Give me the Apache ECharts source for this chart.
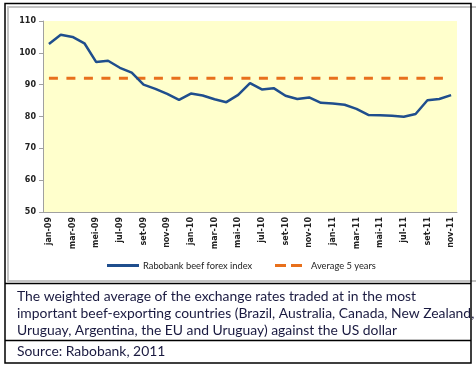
<!DOCTYPE html>
<html>
<head>
<meta charset="utf-8">
<script src="https://cdn.jsdelivr.net/npm/echarts@6/dist/echarts.min.js"></script>
<style>
html,body{margin:0;padding:0;background:#fff;}
#c{width:476px;height:367px;}
</style>
</head>
<body>
<div id="c"></div>
<script>
const categories = ['jan-09','feb-09','mar-09','apr-09','mei-09','jun-09','jul-09','aug-09','set-09','okt-09','nov-09','dec-09',
  'jan-10','feb-10','mar-10','apr-10','mai-10','jun-10','jul-10','aug-10','set-10','okt-10','nov-10','dec-10',
  'jan-11','feb-11','mar-11','apr-11','mai-11','jun-11','jul-11','aug-11','set-11','okt-11','nov-11'];
const forexIndex = [102.8,105.7,105.0,103.0,97.1,97.5,95.3,93.8,90.0,88.7,87.1,85.2,
  87.2,86.6,85.4,84.5,86.8,90.5,88.5,88.9,86.5,85.5,86.0,84.3,
  84.1,83.7,82.4,80.5,80.4,80.2,79.9,80.8,85.1,85.5,86.7];
const average5y = 92;
const averageSeries = categories.map(() => average5y);
const seriesNames = ['Rabobank beef forex index', 'Average 5 years'];
const captionLines = [
  'The weighted average of the exchange rates traded at in the most',
  'important beef-exporting countries (Brazil, Australia, Canada, New Zealand,',
  'Uruguay, Argentina, the EU and Uruguay) against the US dollar'
];
const sourceText = 'Source: Rabobank, 2011';

const blue = '#1F4E8D';
const orange = '#E8701C';
const captionFont = 'Lato, "Open Sans", sans-serif';

const chart = echarts.init(document.getElementById('c'));
const graphics = [
  {type:'rect', shape:{x:8, y:7, width:480, height:274}, style:{fill:'none', stroke:'#c4c4c4', lineWidth:2}, z:-1},
  {type:'rect', shape:{x:5, y:3.5, width:466, height:359.5}, style:{fill:'none', stroke:'#000', lineWidth:1.5}},
  {type:'line', shape:{x1:5, y1:283.5, x2:471, y2:283.5}, style:{stroke:'#000', lineWidth:1.5}},
  {type:'line', shape:{x1:5, y1:340.5, x2:471, y2:340.5}, style:{stroke:'#000', lineWidth:1.5}},
  {type:'line', shape:{x1:107, y1:265.5, x2:139, y2:265.5}, style:{stroke:blue, lineWidth:3}},
  {type:'text', style:{text:seriesNames[0], x:143, y:265.5, fill:'#222', font:'9.3px ' + captionFont, textVerticalAlign:'middle'}},
  {type:'line', shape:{x1:275, y1:265.5, x2:302, y2:265.5}, style:{stroke:orange, lineWidth:3, lineDash:[11,5]}},
  {type:'text', style:{text:seriesNames[1], x:311, y:265.5, fill:'#222', font:'9.3px ' + captionFont, textVerticalAlign:'middle'}},
];
captionLines.forEach((t, i) => {
  graphics.push({type:'text', style:{text:t, x:17, y:296.7 + i*16.7, fill:'#1a1a40', font:'13.9px ' + captionFont, textVerticalAlign:'middle'}});
});
graphics.push({type:'text', style:{text:sourceText, x:17, y:351.7, fill:'#1a1a40', font:'13.9px ' + captionFont, textVerticalAlign:'middle'}});

chart.setOption({
  animation:false,
  grid:{left:43, right:19, top:21, bottom:155, show:true, backgroundColor:'#FFFFCC', borderWidth:0},
  xAxis:{
    type:'category', data:categories, boundaryGap:true,
    axisLine:{lineStyle:{color:'#a0a0a0', width:1}},
    axisTick:{interval:1, length:3, lineStyle:{color:'#a0a0a0'}},
    axisLabel:{interval:1, rotate:90, margin:5, fontSize:8, fontWeight:'bold', fontFamily:'DejaVu Sans', color:'#222'},
    splitLine:{show:false}
  },
  yAxis:{
    type:'value', min:50, max:110, interval:10,
    axisLine:{show:true, lineStyle:{color:'#a0a0a0', width:1}},
    axisTick:{show:true, length:4, lineStyle:{color:'#a0a0a0'}},
    axisLabel:{margin:7, fontSize:8, fontWeight:'bold', fontFamily:'DejaVu Sans', color:'#222'},
    splitLine:{show:false}
  },
  series:[
    {name:seriesNames[0], type:'line', data:forexIndex, symbol:'none', lineStyle:{color:blue, width:2.5}, z:3},
    {name:seriesNames[1], type:'line', data:averageSeries, symbol:'none', lineStyle:{color:orange, width:3, type:[9,8.5]}, z:2}
  ],
  graphic:graphics
});
</script>
</body>
</html>
